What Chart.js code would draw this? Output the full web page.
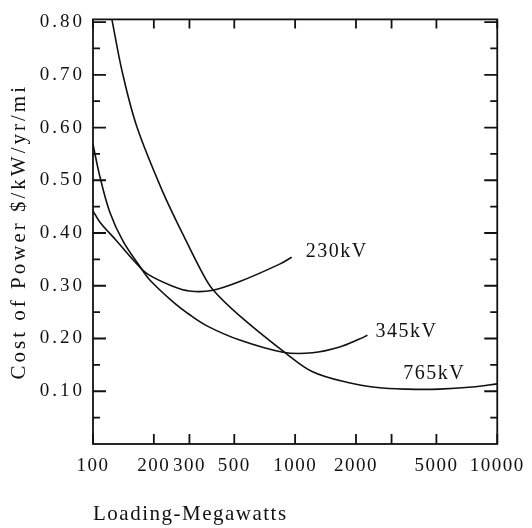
<!DOCTYPE html>
<html>
<head>
<meta charset="utf-8">
<script src="https://cdn.jsdelivr.net/npm/chart.js@4.4.1/dist/chart.umd.min.js"></script>
<style>
  html, body { margin: 0; padding: 0; background: #fff; }
  #wrap { width: 532px; height: 528px; }
</style>
</head>
<body>
<div id="wrap"><canvas id="costChart"></canvas></div>
<script>
// loading in MW (log axis) and cost in $/kW/yr/mi
const load230 = [100, 108, 131, 158, 185, 248, 300, 387, 532, 838, 961];
const cost230 = [0.442, 0.421, 0.385, 0.349, 0.323, 0.299, 0.290, 0.291, 0.308, 0.341, 0.354];

const load345 = [100, 108, 121, 141, 171, 191, 248, 301, 366, 532, 870, 1220, 1660, 2080, 2280];
const cost345 = [0.568, 0.508, 0.440, 0.384, 0.336, 0.311, 0.270, 0.245, 0.224, 0.197, 0.174, 0.173, 0.184, 0.199, 0.206];

const load765 = [124, 140, 165, 222, 279, 349, 391, 532, 908, 1220, 1800, 2550, 3550, 5170, 7530, 10000];
const cost765 = [0.805, 0.703, 0.601, 0.477, 0.397, 0.323, 0.293, 0.243, 0.171, 0.137, 0.117, 0.107, 0.104, 0.104, 0.108, 0.114];

const xTicks = [100, 200, 300, 500, 1000, 2000, 3000, 5000, 10000];
const xTickLabels = ['100', '200', '300', '500', '1000', '2000', '', '5000', '10000'];
const yTicks = [0.05, 0.10, 0.15, 0.20, 0.25, 0.30, 0.35, 0.40, 0.45, 0.50, 0.55, 0.60, 0.65, 0.70, 0.75, 0.80];
const yTickLabels = ['', '0.10', '', '0.20', '', '0.30', '', '0.40', '', '0.50', '', '0.60', '', '0.70', '', '0.80'];

// curve names, anchored at data coordinates
const curveNames = ['230kV', '345kV', '765kV'];
const nameLoad = [1130, 2500, 3430];
const nameCost = [0.365, 0.213, 0.134];

const ink = '#111';
const serif = "'Liberation Serif', 'Times New Roman', serif";

function points(xs, ys) {
  return xs.map((x, i) => ({ x: x, y: ys[i] }));
}

function curve(label, xs, ys) {
  return {
    label: label,
    data: points(xs, ys),
    borderColor: ink,
    borderWidth: 1.6,
    pointRadius: 0,
    fill: false,
    tension: 0.35
  };
}

// box, inward ticks and curve names; also letter spacing for the scanned look
const frameTicks = {
  id: 'frameTicks',
  beforeDraw(chart) {
    chart.ctx.letterSpacing = '3px';   // y axis text (drawn before the lines)
  },
  afterDatasetsDraw(chart) {
    chart.ctx.letterSpacing = '1.5px'; // x axis text (z: 1)
  },
  afterDraw(chart) {
    const ctx = chart.ctx;
    const a = chart.chartArea;
    const x = chart.scales.x;
    const y = chart.scales.y;
    ctx.save();
    ctx.strokeStyle = ink;
    ctx.lineWidth = 1.8;
    ctx.strokeRect(a.left, a.top, a.right - a.left, a.bottom - a.top);
    ctx.beginPath();
    xTicks.forEach(v => {
      const px = x.getPixelForValue(v);
      ctx.moveTo(px, a.bottom); ctx.lineTo(px, a.bottom - 10);
      ctx.moveTo(px, a.top); ctx.lineTo(px, a.top + 9);
    });
    yTicks.forEach((v, i) => {
      const py = y.getPixelForValue(v);
      const len = yTickLabels[i] ? 13 : 7;
      ctx.moveTo(a.left, py); ctx.lineTo(a.left + len, py);
      ctx.moveTo(a.right, py); ctx.lineTo(a.right - len, py);
    });
    ctx.stroke();

    ctx.font = '20px ' + serif;
    ctx.fillStyle = ink;
    ctx.textBaseline = 'middle';
    ctx.textAlign = 'left';
    ctx.letterSpacing = '1.5px';
    curveNames.forEach((t, i) => {
      ctx.fillText(t, x.getPixelForValue(nameLoad[i]), y.getPixelForValue(nameCost[i]));
    });
    ctx.restore();
    ctx.letterSpacing = '0px';
  }
};

const ctx = document.getElementById('costChart').getContext('2d');

const costChart = new Chart(ctx, {
  type: 'line',
  data: {
    datasets: [
      curve('230kV', load230, cost230),
      curve('345kV', load345, cost345),
      curve('765kV', load765, cost765)
    ]
  },
  plugins: [frameTicks],
  options: {
    animation: false,
    responsive: true,
    maintainAspectRatio: false,
    layout: {
      padding: { top: 10, right: 34, left: 0, bottom: 0 }
    },
    plugins: {
      legend: { display: false },
      tooltip: { enabled: false }
    },
    scales: {
      x: {
        type: 'logarithmic',
        min: 100,
        max: 10000,
        grid: { display: false, drawTicks: false, z: 1 },
        border: { display: false },
        afterBuildTicks: (scale) => {
          scale.ticks = xTicks.map(v => ({ value: v }));
        },
        afterFit: (scale) => { scale.height = 84; },
        ticks: {
          z: 1,
          autoSkip: false,
          maxRotation: 0,
          padding: 11,
          color: ink,
          font: { family: serif, size: 19 },
          callback: (value, index) => xTickLabels[index]
        },
        title: {
          display: true,
          align: 'start',
          text: 'Loading-Megawatts',
          color: ink,
          font: { family: serif, size: 21 },
          padding: { top: 0, bottom: 1 }
        }
      },
      y: {
        min: 0,
        max: 0.805,
        grid: { display: false, drawTicks: false },
        border: { display: false },
        afterBuildTicks: (scale) => {
          scale.ticks = yTicks.map(v => ({ value: v }));
        },
        afterFit: (scale) => { scale.width = 93; },
        ticks: {
          autoSkip: false,
          padding: 8,
          color: ink,
          font: { family: serif, size: 19 },
          callback: (value, index) => yTickLabels[index]
        },
        title: {
          display: true,
          text: 'Cost of Power $/kW/yr/mi',
          color: ink,
          font: { family: serif, size: 21 },
          padding: { top: 7, bottom: 0 }
        }
      }
    }
  }
});
</script>
</body>
</html>
